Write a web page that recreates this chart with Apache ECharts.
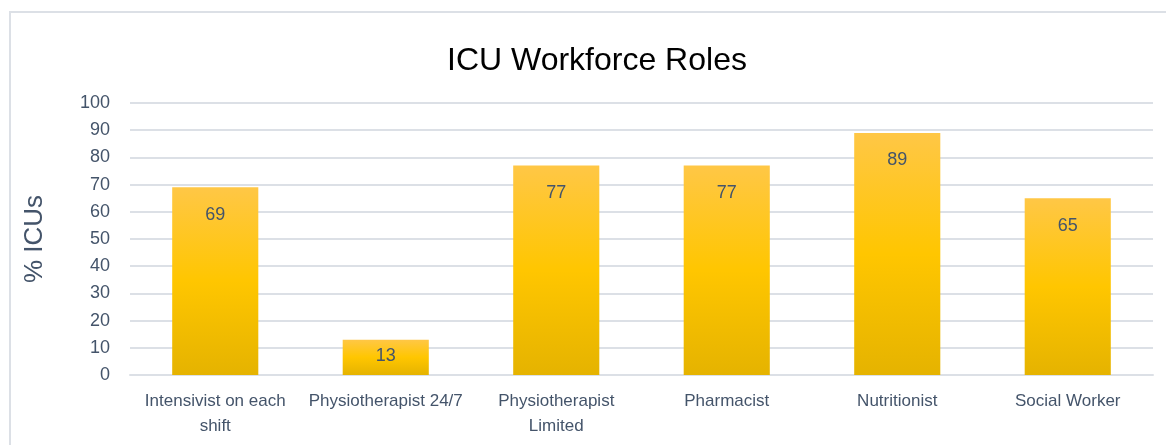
<!DOCTYPE html>
<html>
 <head>
  <title>ICU Workforce Roles</title>
  <script src="https://cdn.jsdelivr.net/npm/echarts@6/dist/echarts.min.js"></script>
  <style>
    html, body, #container {
    width: 100%;
    height: 100%;
    margin: 0;
    padding: 0;
    background: #fff;
    }
  </style>
 </head>
  <body>
    <div id="container"></div>
    <script>
var roles = ['Intensivist on each\nshift', 'Physiotherapist 24/7', 'Physiotherapist\nLimited', 'Pharmacist', 'Nutritionist', 'Social Worker'];
var pctICUs = [69, 13, 77, 77, 89, 65];
var yTicks = [0, 10, 20, 30, 40, 50, 60, 70, 80, 90, 100];

var textColor = '#44546A';
var font = 'Liberation Sans';
var yMin = yTicks[0], yMax = yTicks[yTicks.length - 1];

// short bars get their label nearer the top, like the original
var barData = pctICUs.map(function (v) {
  return v < 20 ? { value: v, label: { distance: 1 } } : v;
});

// two overlaid value axes share the tick labels (even / odd tens) so that
// echarts does not drop any of them as "overlapping"
function yAxisPart(even) {
  return {
    type: 'value',
    min: yMin,
    max: yMax,
    interval: 10,
    position: 'left',
    axisLine: { show: false },
    axisTick: { show: false },
    axisLabel: {
      color: textColor, fontFamily: font, fontSize: 18, margin: 20,
      showMinLabel: true, showMaxLabel: true,
      formatter: function (v) { return ((v / 10) % 2 === 0) === even ? String(v) : ''; }
    },
    splitLine: { show: even, lineStyle: { color: '#DCE0E6', width: 2 } }
  };
}
var yMain = yAxisPart(true);
yMain.name = '% ICUs';
yMain.nameLocation = 'middle';
yMain.nameGap = 73;
yMain.nameTextStyle = { color: textColor, fontFamily: font, fontSize: 26 };

var myChart = echarts.init(document.getElementById('container'));
var option = {
  backgroundColor: '#fff',
  graphic: [{
    type: 'rect',
    shape: { x: 10, y: 12, width: 1170, height: 440 },
    style: { fill: 'none', stroke: '#DCE0E6', lineWidth: 2 },
    silent: true
  }],
  title: {
    text: 'ICU Workforce Roles',
    left: 442,
    top: 29,
    textStyle: { fontFamily: font, fontSize: 32, fontWeight: 'normal', color: '#000' }
  },
  grid: { left: 130, right: 13, top: 103, bottom: 70 },
  xAxis: {
    type: 'category',
    data: roles,
    axisLine: { show: true, lineStyle: { color: '#DCE0E6', width: 2 } },
    axisTick: { show: false },
    axisLabel: { color: textColor, fontFamily: font, fontSize: 17, lineHeight: 25, margin: 14, interval: 0 }
  },
  yAxis: [yMain, yAxisPart(false)],
  series: [{
    type: 'bar',
    data: barData,
    barWidth: '50.5%',
    itemStyle: {
      color: new echarts.graphic.LinearGradient(0, 0, 0, 1, [
        { offset: 0, color: '#FFC746' },
        { offset: 0.5, color: '#FFC600' },
        { offset: 1, color: '#E5B300' }
      ])
    },
    label: {
      show: true,
      position: 'insideTop',
      distance: 12,
      color: textColor,
      fontFamily: font,
      fontSize: 18
    }
  }]
};
myChart.setOption(option);
    </script>
  </body>
</html>
